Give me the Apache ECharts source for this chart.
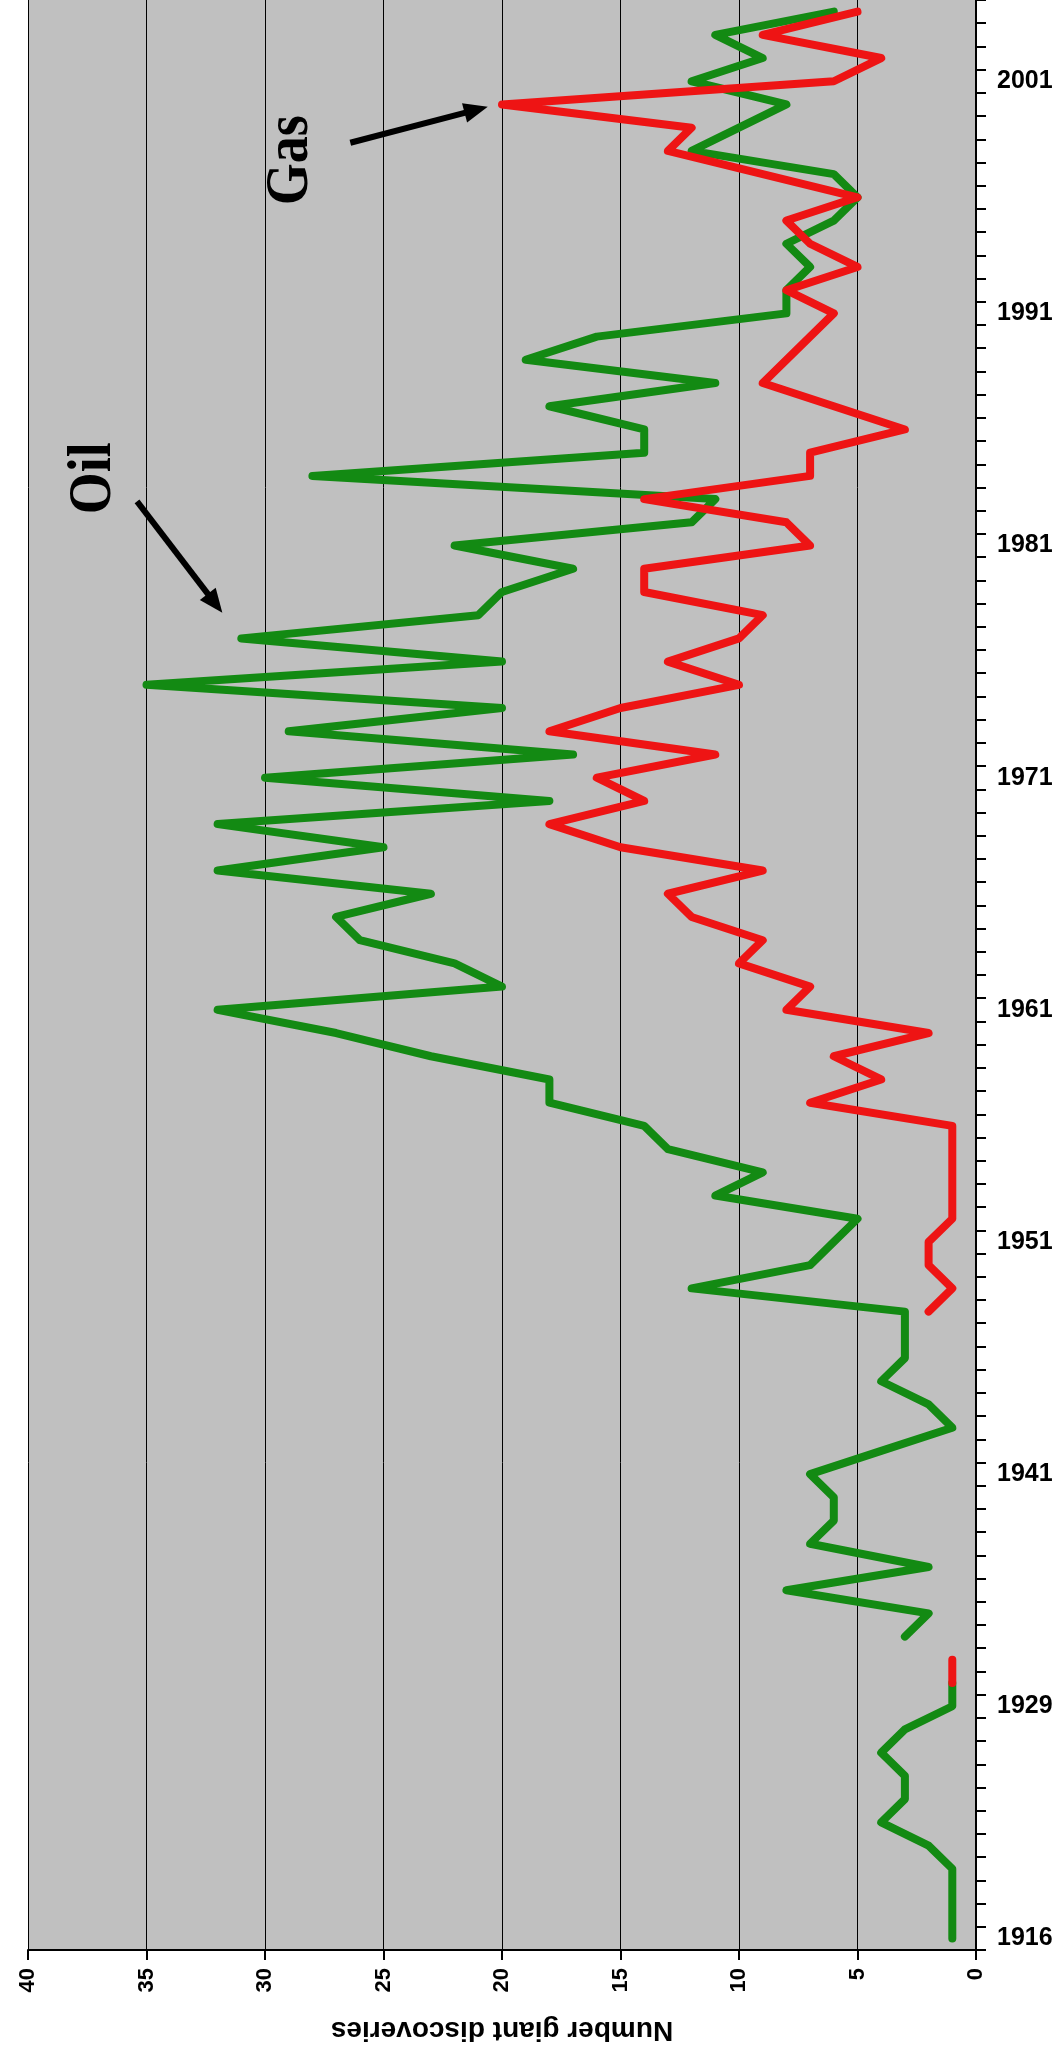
<!DOCTYPE html>
<html><head><meta charset="utf-8">
<script src="https://cdn.jsdelivr.net/npm/echarts@6/dist/echarts.min.js"></script>
<style>html,body{margin:0;padding:0;background:#fff}#c{width:1063px;height:2049px}</style>
</head><body><div id="c"></div>
<script>
// Categories (years with giant discoveries record)
const years = ['1916','1917','1918','1919','1920','1921','1922','1924','1926','1927',
 '1929','1930','1931','1932','1934','1936','1937','1938','1939','1940',
 '1941','1942','1943','1944','1945','1946','1947','1948','1949','1950',
 '1951','1952','1953','1954','1955','1956','1957','1958','1959','1960',
 '1961','1962','1963','1964','1965','1966','1967','1968','1969','1970',
 '1971','1972','1973','1974','1975','1976','1977','1978','1979','1980',
 '1981','1982','1983','1984','1985','1986','1987','1988','1989','1990',
 '1991','1992','1993','1994','1995','1996','1997','1998','1999','2000',
 '2001','2002','2003','2004'];
// Oil giant discoveries (green)
const oil = [1,1,1,1,2,4,3,3,4,3,
 1,1,null,3,2,8,2,7,6,6,
 7,4,1,2,4,3,3,3,12,7,
 6,5,11,9,13,14,18,18,23,27,
 32,20,22,26,27,23,32,25,32,18,
 30,17,29,20,35,20,31,21,20,17,
 22,12,11,28,14,14,18,11,19,16,
 8,8,7,8,6,5,6,12,10,8,
 12,9,11,6];
// Gas giant discoveries (red)
const gas = [null,null,null,null,null,null,null,null,null,null,
 null,1,1,null,null,null,null,null,null,null,
 null,null,null,null,null,null,null,2,1,2,
 2,1,1,1,1,1,7,4,6,2,
 8,7,10,9,12,13,9,15,18,14,
 16,11,18,15,10,13,10,9,14,14,
 7,8,14,7,7,3,6,9,8,7,
 6,8,5,7,8,5,9,13,12,20,
 6,4,9,5];
// Value axis
const valueMin = 0, valueMax = 40, valueStep = 5;
// Annotations: [value, category index (fractional)]
const notes = [
  {text:'Oil', at:[37.2, 62.9], from:[35.4, 61.9], to:[31.8, 57.1]},
  {text:'Gas', at:[28.9, 76.6], from:[26.4, 77.35], to:[20.6, 78.9]}
];

const chart = echarts.init(document.getElementById('c'), null, {renderer:'canvas'});
chart.setOption({
  animation:false,
  backgroundColor:'#ffffff',
  grid:{left:28, right:87, top:0, bottom:93, show:true, backgroundColor:'#c0c0c0', borderWidth:0},
  xAxis:{
    type:'value', min:valueMin, max:valueMax, interval:valueStep, inverse:true, position:'bottom',
    axisLine:{show:true, onZero:false, lineStyle:{color:'#000', width:2}},
    axisTick:{show:true, length:10, lineStyle:{color:'#000', width:2}},
    splitLine:{show:true, lineStyle:{color:'#000', width:1}},
    axisLabel:{rotate:90, margin:18, color:'#000', fontSize:22, fontWeight:'bold', fontFamily:'Liberation Sans'},
    name:'Number giant discoveries', nameLocation:'middle', nameGap:66, nameRotate:180,
    nameTextStyle:{color:'#000', fontSize:28, fontWeight:'bold', fontFamily:'Liberation Sans'}
  },
  yAxis:{
    type:'category', data:years, position:'right', boundaryGap:true,
    axisLine:{show:true, lineStyle:{color:'#000', width:2}},
    axisTick:{show:true, interval:0, length:10, lineStyle:{color:'#000', width:2}},
    splitLine:{show:false},
    axisLabel:{interval:9, margin:21, color:'#000', fontSize:25, fontWeight:'bold', fontFamily:'Liberation Sans'}
  },
  series:[
    {name:'Oil', type:'line', data:oil, showSymbol:false, connectNulls:false,
     lineStyle:{color:'#138a13', width:8, cap:'round', join:'round'}, itemStyle:{color:'#138a13'}},
    {name:'Gas', type:'line', data:gas, showSymbol:false, connectNulls:false,
     lineStyle:{color:'#ee1414', width:8, cap:'round', join:'round'}, itemStyle:{color:'#ee1414'}}
  ]
});

function toPx(p){
  const v = p[0], fi = p[1];
  const i0 = Math.floor(fi), i1 = Math.min(i0 + 1, years.length - 1);
  const a = chart.convertToPixel({gridIndex:0}, [v, i0]);
  const b = chart.convertToPixel({gridIndex:0}, [v, i1]);
  const t = fi - i0;
  return [a[0] + (b[0] - a[0]) * t, a[1] + (b[1] - a[1]) * t];
}
const g = [];
notes.forEach(n => {
  const c = toPx(n.at), f = toPx(n.from), h = toPx(n.to);
  g.push({type:'text', x:c[0], y:c[1], rotation:Math.PI/2, scaleY:1.15, z:100,
    style:{text:n.text, fill:'#000', fontSize:54, fontWeight:'bold', fontFamily:'Liberation Serif', align:'center', verticalAlign:'middle'}});
  const dx = h[0]-f[0], dy = h[1]-f[1], L = Math.hypot(dx,dy), ux = dx/L, uy = dy/L;
  const hl = 24, hw = 10;
  const bx = h[0]-ux*hl, by = h[1]-uy*hl;
  g.push({type:'line', z:100, shape:{x1:f[0], y1:f[1], x2:bx+ux*2, y2:by+uy*2}, style:{stroke:'#000', lineWidth:6}});
  g.push({type:'polygon', z:100, shape:{points:[[h[0],h[1]],[bx-uy*hw, by+ux*hw],[bx+uy*hw, by-ux*hw]]}, style:{fill:'#000'}});
});
chart.setOption({graphic:g});
</script>
</body></html>
